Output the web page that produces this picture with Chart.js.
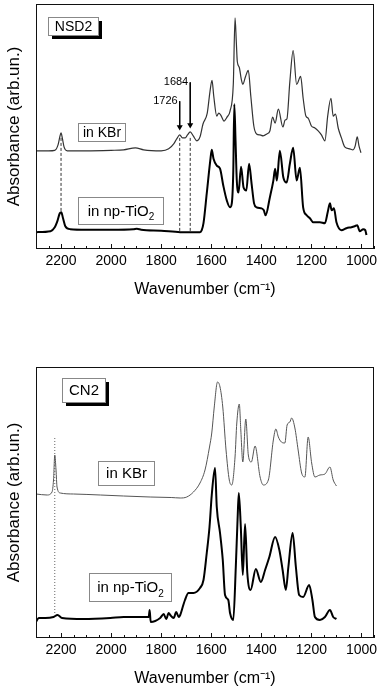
<!DOCTYPE html>
<html>
<head>
<meta charset="utf-8">
<script src="https://cdn.jsdelivr.net/npm/chart.js@4.4.0/dist/chart.umd.min.js"></script>
<style>
body { margin: 0; background: #fff; }
#wrap { position: relative; width: 378px; height: 688px; }
canvas { position: absolute; left: 0; }
#top { top: 0; }
#bot { top: 310px; }
</style>
</head>
<body>
<div id="wrap">
<canvas id="top" width="378" height="299"></canvas>
<canvas id="bot" width="378" height="378"></canvas>
</div>
<script>
// NSD2 - KBr pellet (thin line)
var nsdKbrWn = [2300,2250,2225,2212,2205,2200,2195,2188,2175,2100,2000,1950,1903,1870,1800,1770,1750,1738,1726,1715,1704,1695,1684,1672,1657,1645,1633,1616,1605,1597,1590,1578,1570,1562,1549,1537,1525,1512,1505,1500,1496,1488,1480,1474,1463,1452,1442,1430,1419,1405,1393,1378,1366,1355,1345,1332,1314,1305,1298,1286,1273,1259,1243,1233,1222,1213,1200,1186,1173,1160,1146,1135,1122,1113,1104,1093,1080,1067,1047,1034,1025,1017,1010,1002];
var nsdKbrAbs = [99,99,99.5,105,113,117,112,103,99,99,99.5,100,102,100,99,101,106,111,115,112,112,115,118,114,109,113,126,137,159,170,154,134,137,135,129,133,139,166,233,209,189,183,171,166,174,180,154,124,116,115,114,116,119,133,127,141,123,130,131,169,200,166,174,152,134,132,124,122,119,115,109,134,152,134,136,122,112,103,101,100,104,113,104,97];
// NSD2 - in np-TiO2 (thick line)
var nsdTioWn = [2300,2242,2225,2216,2205,2199,2192,2183,2163,2100,2000,1911,1897,1880,1800,1724,1645,1638,1631,1618,1604,1598,1591,1578,1565,1552,1538,1525,1518,1512,1508,1503,1498,1491,1481,1471,1460,1449,1439,1429,1419,1399,1390,1383,1366,1352,1345,1338,1326,1312,1299,1286,1273,1259,1246,1233,1219,1206,1193,1166,1146,1135,1126,1119,1110,1100,1080,1060,1040,1027,1017,1007,993,985,980];
var nsdTioAbs = [17,18,22,27,36,37,31,23,20,19.5,19.5,20,20.5,19.5,18.5,17,17,19,26,56,89,100,91,84,81,64,49,42,46,79,146,109,69,57,83,62,59,86,66,46,42,41,39,34,52,69,81,69,99,72,67,86,102,69,82,42,34,31,27,27,26,37,46,39,41,27,19,21,22,23,24,18,20,19,14];
// CN2 - KBr
var cnKbrWn = [2300,2256,2236,2230,2225,2220,2216,2203,2150,2043,1950,1844,1760,1724,1698,1671,1645,1625,1607,1598,1588,1575,1565,1554,1541,1528,1518,1505,1498,1488,1482,1474,1462,1452,1440,1425,1405,1392,1372,1352,1342,1332,1320,1306,1297,1286,1279,1266,1253,1239,1226,1213,1199,1186,1166,1146,1126,1113,1100];
var cnKbrAbs = [144,143,146,158,183,168,151,145,144,143,142,141,140.5,140,141,146,155,168,191,205,231,256,251,231,188,158,153,181,215,234,208,176,219,183,176,192,161,153,158,198,209,201,196,195,213,216,220,210,188,165,161,201,175,161,163,164,171,158,152];
// CN2 - in np-TiO2
var cnTioWn = [2300,2289,2263,2230,2214,2196,2110,2003,1950,1884,1850,1846,1842,1804,1790,1780,1770,1764,1750,1740,1730,1724,1714,1705,1691,1671,1645,1631,1618,1607,1598,1585,1578,1565,1554,1545,1532,1525,1512,1502,1495,1490,1482,1474,1465,1456,1443,1422,1402,1385,1368,1345,1328,1315,1302,1292,1275,1262,1249,1233,1209,1196,1186,1166,1146,1126,1113,1100];
var cnTioAbs = [16,20,20,21,23,20,19,20,21,21,21,28,16,20,24,19,25,23,20,26,21,23,31,38,45,45,50,58,85,111,143,170,131,105,78,43,38,25,18,71,118,145,111,63,114,65,48,69,56,68,81,101,88,68,48,71,105,71,43,41,53,38,21,18,21,28,21,19];

var tickLabels = [2200, 2000, 1800, 1600, 1400, 1200, 1000];

// guide lines / arrows
var nsdGuideWn = [2200, 1726, 1684], nsdGuideTop = [112, 112, 112], nsdGuideBot = [37, 18, 18];
var nsdArrowWn = [1726, 1684], nsdArrowFrom = [149, 168], nsdArrowTo = [123, 125];
var cnGuideWn = [2225], cnGuideTop = [200], cnGuideBot = [23];

var FONT = '"Liberation Sans", Arial, sans-serif';
Chart.defaults.font.family = FONT;
Chart.defaults.color = '#000';

function pts(xs, ys) {
    return xs.map(function(x, i) { return {x: x, y: ys[i]}; });
}

function spectrum(xs, ys, color, width) {
    return {
        data: pts(xs, ys),
        borderColor: color,
        borderWidth: width,
        pointRadius: 0,
        cubicInterpolationMode: 'monotone'
    };
}

function vline(x, y0, y1, dash, color) {
    return {data: [{x: x, y: y0}, {x: x, y: y1}], borderColor: color, borderWidth: 1, borderDash: dash, pointRadius: 0};
}

function arrow(x, y0, y1) {
    return {
        data: [{x: x, y: y0}, {x: x, y: y1}],
        borderColor: '#000', borderWidth: 1,
        pointRadius: [0, 3.5], pointStyle: 'triangle', pointRotation: 180,
        pointBackgroundColor: '#000', pointBorderWidth: 0
    };
}

// frame, inward ticks, text boxes
var extras = {
    id: 'extras',
    afterDraw: function(chart, args, opts) {
        var ctx = chart.ctx, a = chart.chartArea, xs = chart.scales.x, ys = chart.scales.y;
        ctx.save();
        ctx.strokeStyle = '#111';
        ctx.lineWidth = 1;
        ctx.strokeRect(a.left + 0.5, a.top + 0.5, a.right - a.left - 1, a.bottom - a.top - 1);
        xs.ticks.forEach(function(t) {
            var px = Math.round(xs.getPixelForValue(t.value)) + 0.5;
            var len = tickLabels.indexOf(t.value) >= 0 ? 5 : 3;
            ctx.beginPath();
            ctx.moveTo(px, a.bottom);
            ctx.lineTo(px, a.bottom - len);
            ctx.stroke();
        });
        (opts.boxes || []).forEach(function(b) {
            var px = Math.round(xs.getPixelForValue(b.x)), py = Math.round(ys.getPixelForValue(b.y));
            if (b.shadow) {
                ctx.fillStyle = '#000';
                ctx.fillRect(px + 4, py + 4, b.w, b.h);
            }
            ctx.fillStyle = '#fff';
            ctx.fillRect(px, py, b.w, b.h);
            ctx.strokeStyle = '#888';
            ctx.strokeRect(px + 0.5, py + 0.5, b.w, b.h);
            ctx.fillStyle = '#000';
            ctx.textBaseline = 'middle';
            ctx.textAlign = 'left';
            ctx.font = b.size + 'px ' + FONT;
            var tw = ctx.measureText(b.text).width, sw = 0;
            if (b.sub) {
                ctx.font = Math.round(b.size * 0.65) + 'px ' + FONT;
                sw = ctx.measureText(b.sub).width;
            }
            var tx = px + (b.w - tw - sw) / 2 + 0.5, ty = py + b.h / 2 + 1;
            ctx.font = b.size + 'px ' + FONT;
            ctx.fillText(b.text, tx, ty);
            if (b.sub) {
                ctx.font = Math.round(b.size * 0.65) + 'px ' + FONT;
                ctx.fillText(b.sub, tx + tw, ty + 6);
            }
        });
        (opts.labels || []).forEach(function(l) {
            ctx.font = '11px ' + FONT;
            ctx.fillStyle = '#000';
            ctx.textAlign = 'right';
            ctx.textBaseline = 'middle';
            ctx.fillText(l.text, xs.getPixelForValue(l.x) - 2, ys.getPixelForValue(l.y));
        });
        ctx.restore();
    }
};

function makeChart(id, datasets, yMax, padTop, notes) {
    return new Chart(document.getElementById(id), {
        type: 'line',
        data: {datasets: datasets},
        plugins: [extras],
        options: {
            responsive: false,
            animation: false,
            devicePixelRatio: 1,
            layout: {padding: {top: padTop, right: 3, left: 0, bottom: 0}},
            plugins: {legend: {display: false}, tooltip: {enabled: false}, extras: notes},
            scales: {
                x: {
                    type: 'linear', reverse: true, min: 950, max: 2300,
                    grid: {display: false, drawTicks: false},
                    border: {display: false},
                    ticks: {
                        stepSize: 50, autoSkip: false, maxRotation: 0, padding: 4,
                        font: {size: 14},
                        callback: function(v) { return tickLabels.indexOf(v) >= 0 ? String(v) : ''; }
                    },
                    title: {display: true, text: 'Wavenumber (cm\u207B\u00B9)', font: {size: 16}, padding: {top: 0, bottom: 0}},
                    afterFit: function(s) { s.height = 50; }
                },
                y: {
                    min: 0, max: yMax,
                    grid: {display: false},
                    border: {display: false},
                    ticks: {display: false},
                    title: {display: true, text: 'Absorbance (arb.un.)', font: {size: 17}, padding: {top: 4, bottom: 0}},
                    afterFit: function(s) { s.width = 36; }
                }
            }
        }
    });
}

var topSets = [
    spectrum(nsdKbrWn, nsdKbrAbs, '#333', 1.2),
    spectrum(nsdTioWn, nsdTioAbs, '#000', 2)
];
nsdGuideWn.forEach(function(w, i) { topSets.push(vline(w, nsdGuideTop[i], nsdGuideBot[i], [3, 2], '#333')); });
nsdArrowWn.forEach(function(w, i) { topSets.push(arrow(w, nsdArrowFrom[i], nsdArrowTo[i])); });

makeChart('top', topSets, 247, 2, {
    boxes: [
        {x: 2251, y: 234, w: 50, h: 18, text: 'NSD2', size: 14, shadow: true},
        {x: 2131, y: 127, w: 47, h: 18, text: 'in KBr', size: 14},
        {x: 2131, y: 52, w: 85, h: 27, text: 'in np-TiO', sub: '2', size: 15}
    ],
    labels: nsdArrowWn.map(function(w, i) { return {x: w, y: nsdArrowFrom[i], text: String(w)}; })
});

var botSets = [
    spectrum(cnKbrWn, cnKbrAbs, '#555', 1),
    spectrum(cnTioWn, cnTioAbs, '#000', 2)
];
cnGuideWn.forEach(function(w, i) { botSets.push(vline(w, cnGuideTop[i], cnGuideBot[i], [1, 2], '#666')); });

makeChart('bot', botSets, 271, 57, {
    boxes: [
        {x: 2195, y: 260, w: 43, h: 24, text: 'CN2', size: 15, shadow: true},
        {x: 2051, y: 177, w: 56, h: 24, text: 'in KBr', size: 15},
        {x: 2087, y: 65, w: 82, h: 28, text: 'in np-TiO', sub: '2', size: 15}
    ]
});
</script>
</body>
</html>
